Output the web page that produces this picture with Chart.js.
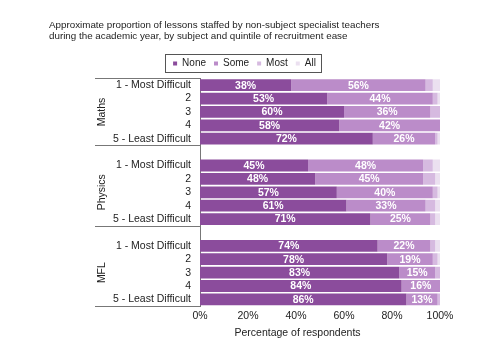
<!DOCTYPE html>
<html>
<head>
<meta charset="utf-8">
<script src="https://cdn.jsdelivr.net/npm/chart.js@4/dist/chart.umd.min.js"></script>
<style>
  body { margin: 0; background: #fff; }
  #wrap { width: 500px; height: 361px; position: relative; }
</style>
</head>
<body>
<div id="wrap"><canvas id="chart"></canvas></div>
<script>
var subjects = ["Maths", "Physics", "MFL"];
var quintiles = ["1 - Most Difficult", "2", "3", "4", "5 - Least Difficult"];
var seriesNames = ["None", "Some", "Most", "All"];

// one value per quintile, a null gap row between subjects
var none = [38, 53, 60, 58, 72, null, 45, 48, 57, 61, 71, null, 74, 78, 83, 84, 86];
var some = [56, 44, 36, 42, 26, null, 48, 45, 40, 33, 25, null, 22, 19, 15, 16, 13];
var most = [3, 2, 4, 0, 1, null, 4, 5, 2, 4, 2, null, 2, 2, 2, 0, 1];
var all = [3, 1, 0, 0, 1, null, 3, 2, 1, 2, 2, null, 2, 1, 0, 0, 0];

var xTicks = [0, 20, 40, 60, 80, 100];

var colors = ["#8b4c9c", "#bb8cc9", "#d6bae0", "#ebe0f0"];
var font = "'Liberation Sans', Arial, sans-serif";

var labels = [];
subjects.forEach(function(s, i) {
  if (i > 0) labels.push("");
  quintiles.forEach(function(q) { labels.push(q); });
});

var seriesData = [none, some, most, all];

var extras = {
  id: "extras",
  afterDraw: function(chart) {
    var ctx = chart.ctx;
    var area = chart.chartArea;
    var y = chart.scales.y;
    var lineLeft = y.left + 46;

    // group separators on the category axis
    var n = quintiles.length;
    var bounds = [area.top];
    var groups = [];
    var start = 0;
    subjects.forEach(function(s, i) {
      var first = start;
      var last = start + n - 1;
      groups.push((y.getPixelForValue(first) + y.getPixelForValue(last)) / 2);
      start = last + 2;
    });
    bounds.push((y.getPixelForValue(n - 1) + y.getPixelForValue(n)) / 2);
    bounds.push((y.getPixelForValue(2 * n) + y.getPixelForValue(2 * n + 1)) / 2);
    bounds.push(area.bottom);

    ctx.save();
    ctx.strokeStyle = "#777";
    ctx.lineWidth = 1;
    bounds.forEach(function(b) {
      var yy = Math.round(b) + 0.5;
      ctx.beginPath();
      ctx.moveTo(lineLeft, yy);
      ctx.lineTo(area.left, yy);
      ctx.stroke();
    });

    ctx.fillStyle = "#222";
    ctx.font = "10.5px " + font;
    ctx.textAlign = "center";
    ctx.textBaseline = "middle";
    subjects.forEach(function(s, i) {
      ctx.save();
      ctx.translate(y.left + 53, groups[i]);
      ctx.rotate(-Math.PI / 2);
      ctx.fillText(s, 0, 0);
      ctx.restore();
    });

    // x axis title
    ctx.fillText("Percentage of respondents", (lineLeft + chart.width) / 2, 333);

    // legend frame
    var boxes = chart.legend.legendHitBoxes;
    if (boxes && boxes.length) {
      var l = boxes[0].left - 8;
      var r = boxes[boxes.length - 1].left + boxes[boxes.length - 1].width + 5;
      var t = boxes[0].top - 4;
      var h = boxes[0].height + 8;
      ctx.strokeStyle = "#555";
      ctx.strokeRect(Math.round(l) + 0.5, Math.round(t) + 0.5, Math.round(r - l), Math.round(h));
    }

    // value labels on None and Some
    ctx.fillStyle = "#fff";
    ctx.font = "bold 10.5px " + font;
    [0, 1].forEach(function(di) {
      var meta = chart.getDatasetMeta(di);
      meta.data.forEach(function(bar, i) {
        var v = chart.data.datasets[di].data[i];
        if (v == null) return;
        var p = bar.getCenterPoint();
        ctx.fillText(v + "%", p.x, p.y + 0.5);
      });
    });
    ctx.restore();
  }
};

new Chart(document.getElementById("chart"), {
  type: "bar",
  data: {
    labels: labels,
    datasets: seriesNames.map(function(name, i) {
      return {
        label: name,
        data: seriesData[i],
        backgroundColor: colors[i],
        borderWidth: 0,
        barPercentage: 0.88,
        categoryPercentage: 1
      };
    })
  },
  options: {
    indexAxis: "y",
    responsive: true,
    maintainAspectRatio: false,
    animation: false,
    layout: { padding: { left: 49, right: 60, top: 20, bottom: 34.3 } },
    plugins: {
      title: {
        display: true,
        text: [
          "Approximate proportion of lessons staffed by non-subject specialist teachers",
          "during the academic year, by subject and quintile of recruitment ease"
        ],
        align: "start",
        color: "#222",
        font: { family: font, size: 9.8, weight: "normal", lineHeight: 1.12 },
        padding: { top: 0, bottom: 8.5 }
      },
      legend: {
        display: true,
        labels: {
          boxWidth: 4,
          boxHeight: 4,
          padding: 8,
          color: "#222",
          font: { family: font, size: 10 }
        }
      },
      tooltip: { enabled: false }
    },
    scales: {
      x: {
        stacked: true,
        min: 0,
        max: 100,
        afterBuildTicks: function(scale) {
          scale.ticks = xTicks.map(function(v) { return { value: v }; });
        },
        ticks: {
          padding: 4,
          color: "#222",
          font: { family: font, size: 10.5 },
          callback: function(value) { return value + "%"; }
        },
        grid: { display: false, drawTicks: false },
        border: { display: false }
      },
      y: {
        stacked: true,
        afterFit: function(scale) { scale.width = 151; },
        ticks: {
          padding: 9,
          autoSkip: false,
          color: "#222",
          font: { family: font, size: 10.5 }
        },
        grid: { display: false, drawTicks: false },
        border: { display: true, color: "#777", width: 1 }
      }
    }
  },
  plugins: [extras]
});
</script>
</body>
</html>
